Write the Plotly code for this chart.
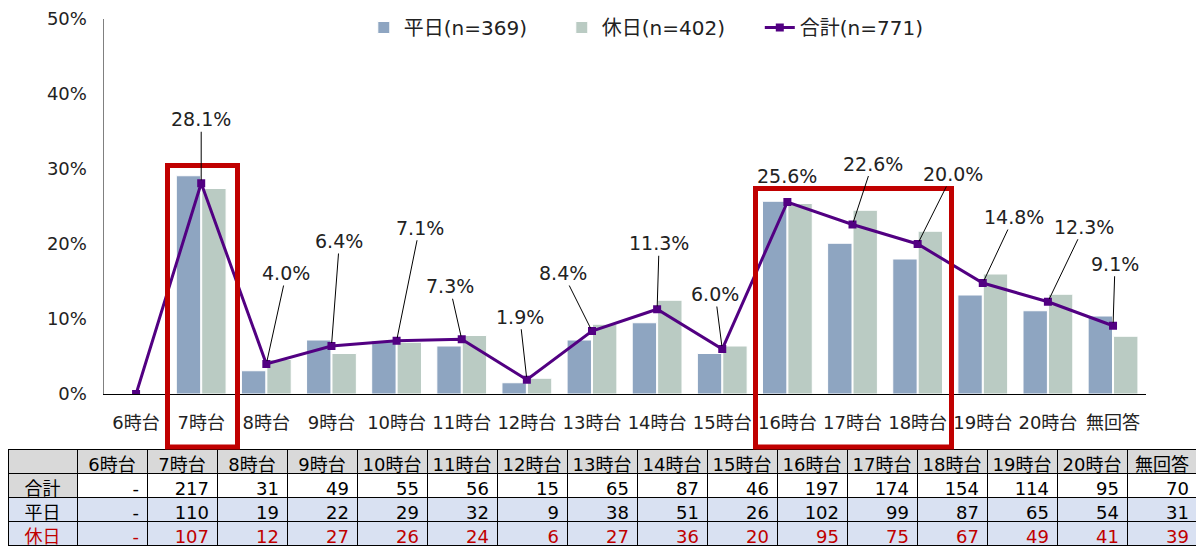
import plotly.graph_objects as go

categories = ["6時台", "7時台", "8時台", "9時台", "10時台", "11時台", "12時台", "13時台",
              "14時台", "15時台", "16時台", "17時台", "18時台", "19時台", "20時台", "無回答"]

# percentages
weekday_pct = [0, 29.1, 3.1, 7.2, 7.1, 6.4, 1.5, 7.2, 9.5, 5.4, 25.7, 20.1, 18.0, 13.2, 11.1, 10.4]
holiday_pct = [0, 27.4, 4.6, 5.4, 6.9, 7.8, 2.1, 9.3, 12.5, 6.4, 25.4, 24.5, 21.7, 16.0, 13.3, 7.7]
total_pct = [0.0, 28.1, 4.0, 6.4, 7.1, 7.3, 1.9, 8.4, 11.3, 6.0, 25.6, 22.6, 20.0, 14.8, 12.3, 9.1]

# table counts
total_n = [None, 217, 31, 49, 55, 56, 15, 65, 87, 46, 197, 174, 154, 114, 95, 70]
weekday_n = [None, 110, 19, 22, 29, 32, 9, 38, 51, 26, 102, 99, 87, 65, 54, 31]
holiday_n = [None, 107, 12, 27, 26, 24, 6, 27, 36, 20, 95, 75, 67, 49, 41, 39]

row_labels = ["合計", "平日", "休日"]
legend_names = ["平日(n=369)", "休日(n=402)", "合計(n=771)"]

# label offsets (pixels) for the total line labels
label_dx = [0, 0, 20, 8, 23, -12, -7, -29, 2, -7, 0, 20, 35, 31, 36, 2]
label_dy = [0, -64, -91, -105, -113, -53, -63, -58, -66, -55, -26, -61, -70, -66, -75, -62]
label_arrow = [False, True, True, True, True, True, True, True, True, True, False, True, True, True, True, True]

# page has an 8px body margin; the figure is sized to fill the rest of the window
OFF = 8
W, H = 1204 - OFF, 546 - OFF
TOP = 19 - OFF
PH = H - TOP


def X(px):  # page x -> paper fraction
    return min(1.0, max(0.0, (px - OFF) / W))


def Y(py):  # page y -> paper fraction
    return (546 - py) / PH


FONT = "DejaVu Sans, Noto Sans CJK JP, sans-serif"
C_WD = "#8EA5C1"
C_HD = "#BACBC3"
C_TOT = "#520082"
RED = "#C00000"

fig = go.Figure()
fig.add_trace(go.Bar(x=categories, y=weekday_pct, name=legend_names[0],
                     marker=dict(color=C_WD, line=dict(color="white", width=1))))
fig.add_trace(go.Bar(x=categories, y=holiday_pct, name=legend_names[1],
                     marker=dict(color=C_HD, line=dict(color="white", width=1))))
fig.add_trace(go.Scatter(x=categories, y=total_pct, name=legend_names[2], mode="lines+markers",
                         line=dict(color=C_TOT, width=3),
                         marker=dict(symbol="square", size=8, color=C_TOT)))

for i, (c, v) in enumerate(zip(categories, total_pct)):
    if v == 0:
        continue
    if label_arrow[i]:
        fig.add_annotation(x=c, y=v, xref="x", yref="y", text=f"{v:.1f}%",
                           showarrow=True, arrowhead=0, arrowwidth=1, arrowcolor="black",
                           standoff=3, ax=label_dx[i], ay=label_dy[i],
                           font=dict(size=19, color="#222222", family=FONT))
    else:
        fig.add_annotation(x=c, y=v, xref="x", yref="y", text=f"{v:.1f}%",
                           showarrow=False, xshift=label_dx[i], yshift=-label_dy[i],
                           font=dict(size=19, color="#222222", family=FONT))

# table
cols = [row_labels]
for i in range(len(categories)):
    cols.append(["-" if total_n[i] is None else str(total_n[i]),
                 "-" if weekday_n[i] is None else str(weekday_n[i]),
                 "-" if holiday_n[i] is None else str(holiday_n[i])])

GRAY = "#D9D9D9"
LBLUE = "#D9E1F2"
fill_cols = [[GRAY, LBLUE, LBLUE]] + [["white", LBLUE, LBLUE] for _ in categories]
font_cols = [["black", "black", RED]] + [["black", "black", RED] for _ in categories]

fig.add_trace(go.Table(
    domain=dict(x=[X(5), X(1197)], y=[0, Y(449)]),
    columnwidth=[69] + [70] * 16,
    header=dict(values=[""] + categories, fill_color=GRAY, align="center",
                line=dict(color="black", width=1), height=24,
                font=dict(size=18, color="black", family=FONT)),
    cells=dict(values=cols, fill_color=fill_cols, align=["center"] + ["right"] * 16,
               line=dict(color="black", width=1), height=24,
               font=dict(size=18, color=font_cols, family=FONT)),
))

# highlight boxes
for x0, x1, y1 in [(167.5, 237.5, 165.5), (755.5, 951.5, 188.5)]:
    fig.add_shape(type="rect", xref="paper", yref="paper",
                  x0=X(x0), x1=X(x1), y0=Y(447), y1=Y(y1),
                  line=dict(color=RED, width=5), fillcolor="rgba(0,0,0,0)", layer="above")

fig.update_layout(
    width=W, height=H,
    margin=dict(l=0, r=0, t=TOP, b=0, autoexpand=False),
    paper_bgcolor="white", plot_bgcolor="white",
    font=dict(family=FONT, size=18, color="#222222"),
    barmode="group", bargap=0.22, bargroupgap=0.04,
    showlegend=True,
    legend=dict(orientation="h", x=X(363.8), y=Y(8), xanchor="left", yanchor="top",
                entrywidth=153, font=dict(size=20), bgcolor="rgba(0,0,0,0)",
                traceorder="normal"),
    xaxis=dict(domain=[X(103.5), X(1145.6)], type="category", range=[-0.5, 15.5],
               automargin=False,
               showline=True, linecolor="black", linewidth=1, showgrid=False,
               ticks="outside", ticklen=12, tickcolor="rgba(0,0,0,0)",
               tickfont=dict(size=18)),
    yaxis=dict(domain=[Y(394), 1], range=[0, 50], dtick=10, ticksuffix="%",
               automargin=False,
               showline=True, linecolor="#808080", linewidth=1, showgrid=False, zeroline=False,
               ticks="outside", ticklen=12, tickcolor="rgba(0,0,0,0)",
               tickfont=dict(size=18)),
)

fig.write_html("out.html")
